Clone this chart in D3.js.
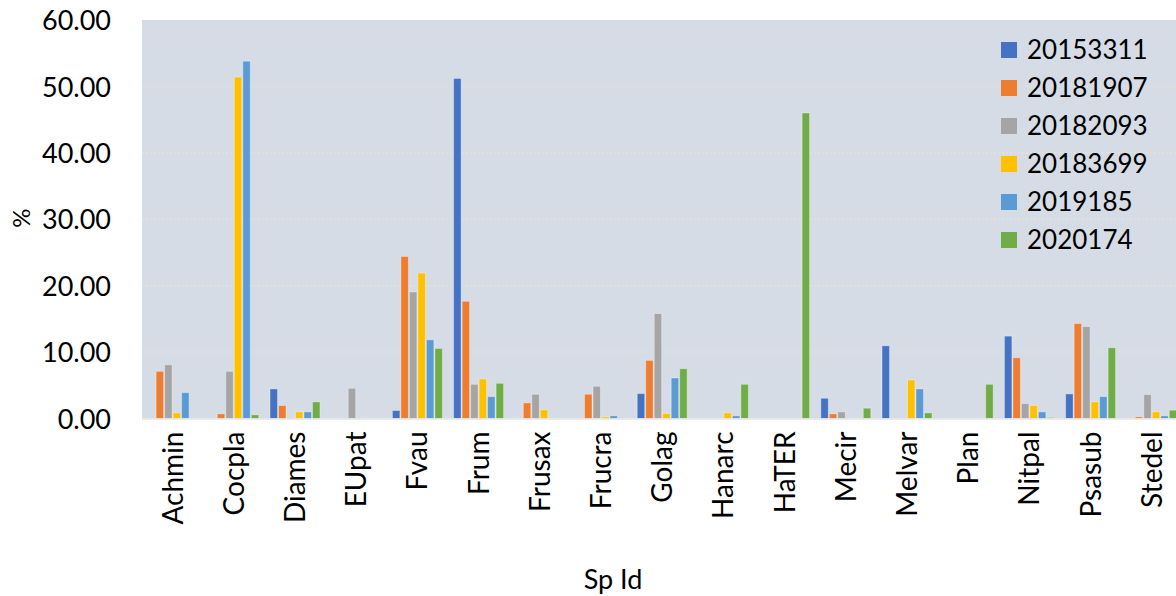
<!DOCTYPE html>
<html>
<head>
<meta charset="utf-8">
<script src="https://cdn.jsdelivr.net/npm/d3@7"></script>
<style>
  body { margin: 0; background: #fff; }
  svg text { font-family: Lato, "Open Sans", sans-serif; fill: #000; }
</style>
</head>
<body>
<svg id="chart"></svg>
<script>
var categories = ['Achmin','Cocpla','Diames','EUpat','Fvau','Frum','Frusax','Frucra','Golag',
	'Hanarc','HaTER','Mecir','Melvar','Plan','Nitpal','Psasub','Stedel'];

var seriesNames = ['20153311','20181907','20182093','20183699','2019185','2020174'];
var seriesColors = ['#4472C4','#ED7D31','#A5A5A5','#FFC000','#5B9BD5','#70AD47'];

var s20153311 = [0, 0, 4.45, 0, 1.2, 51.2, 0, 0, 3.75, 0, 0, 3.05, 10.95, 0, 12.4, 3.7, 0];
var s20181907 = [7.1, 0.7, 1.95, 0, 24.4, 17.65, 2.35, 3.65, 8.75, 0, 0, 0.7, 0, 0, 9.15, 14.3, 0.25];
var s20182093 = [8.1, 7.1, 0.1, 4.55, 19.05, 5.15, 3.65, 4.85, 15.8, 0, 0, 1.0, 0, 0, 2.25, 13.85, 3.6];
var s20183699 = [0.85, 51.4, 1.0, 0, 21.9, 5.95, 1.3, 0.25, 0.75, 0.85, 0, 0, 5.8, 0, 1.95, 2.5, 1.0];
var s2019185 = [3.9, 53.8, 1.0, 0, 11.85, 3.3, 0, 0.4, 6.1, 0.4, 0, 0, 4.45, 0, 1.0, 3.3, 0.4];
var s2020174 = [0, 0.55, 2.5, 0, 10.55, 5.3, 0, 0, 7.5, 5.15, 46.0, 1.55, 0.85, 5.15, 0.15, 10.65, 1.25];

var seriesValues = [s20153311, s20181907, s20182093, s20183699, s2019185, s2020174];

var yTicks = [0, 10, 20, 30, 40, 50, 60];

var width = 1176, height = 596;
var plotLeft = 142, plotRight = 1182.4, plotTop = 20, plotBottom = 418.5;

var svg = d3.select('#chart')
	.attr('width', width)
	.attr('height', height);

// plot background
svg.append('rect')
	.attr('x', plotLeft)
	.attr('y', plotTop)
	.attr('width', plotRight - plotLeft)
	.attr('height', plotBottom - plotTop)
	.attr('fill', '#D6DCE5');

var x0 = d3.scaleBand()
	.domain(categories)
	.range([plotLeft, plotRight]);

var bw = x0.bandwidth();
var x1 = d3.scaleBand()
	.domain(seriesNames)
	.range([bw * 0.092, bw * 0.908])
	.paddingInner(0.12);

var y = d3.scaleLinear()
	.domain([0, 60])
	.range([plotBottom, plotTop]);

// gridlines
svg.append('g')
	.selectAll('line')
	.data(yTicks.filter(function(d){ return d > 0 && d < 60; }))
	.join('line')
	.attr('x1', plotLeft)
	.attr('x2', plotRight)
	.attr('y1', function(d){ return y(d); })
	.attr('y2', function(d){ return y(d); })
	.attr('stroke', '#E4DFD8')
	.attr('stroke-width', 1.5)
	.attr('stroke-dasharray', '2,2');

// bars
var groups = svg.append('g')
	.selectAll('g')
	.data(seriesNames)
	.join('g')
	.attr('fill', function(d, i){ return seriesColors[i]; });

groups.selectAll('rect')
	.data(function(name, si){
		return categories.map(function(c, ci){ return {cat: c, name: name, v: seriesValues[si][ci]}; })
			.filter(function(d){ return d.v > 0; });
	})
	.join('rect')
	.attr('x', function(d){ return x0(d.cat) + x1(d.name); })
	.attr('y', function(d){ return y(d.v); })
	.attr('width', x1.bandwidth())
	.attr('height', function(d){ return y(0) - y(d.v); })
	.attr('stroke', 'rgba(255,255,255,0.35)')
	.attr('stroke-width', 1);

// baseline
svg.append('line')
	.attr('x1', plotLeft)
	.attr('x2', plotRight)
	.attr('y1', plotBottom + 0.5)
	.attr('y2', plotBottom + 0.5)
	.attr('stroke', '#E4E4E4')
	.attr('stroke-width', 1.5);

// y axis
var yAxis = svg.append('g')
	.attr('transform', 'translate(' + (plotLeft - 31) + ',0)')
	.call(d3.axisLeft(y).tickValues(yTicks).tickSize(0).tickFormat(d3.format('.2f')));
yAxis.select('.domain').remove();
yAxis.selectAll('text')
	.attr('x', 0)
	.attr('dy', '0.36em')
	.style('font-size', '27px');

// x axis
var xAxis = svg.append('g')
	.attr('transform', 'translate(0,' + plotBottom + ')')
	.call(d3.axisBottom(x0).tickSize(0));
xAxis.select('.domain').remove();
xAxis.selectAll('text')
	.attr('transform', 'rotate(-90)')
	.attr('text-anchor', 'end')
	.attr('x', -13)
	.attr('y', 0)
	.attr('dy', '0.36em')
	.style('font-size', '28px');

// axis titles
svg.append('text')
	.attr('transform', 'translate(30,218) rotate(-90)')
	.attr('text-anchor', 'middle')
	.style('font-size', '24px')
	.text('%');

svg.append('text')
	.attr('x', 613)
	.attr('y', 589)
	.attr('text-anchor', 'middle')
	.style('font-size', '27px')
	.text('Sp Id');

// legend
var legend = svg.append('g')
	.selectAll('g')
	.data(seriesNames)
	.join('g')
	.attr('transform', function(d, i){ return 'translate(1001,' + (50 + i * 38) + ')'; });

legend.append('rect')
	.attr('x', 0)
	.attr('y', -8)
	.attr('width', 16)
	.attr('height', 16)
	.attr('fill', function(d, i){ return seriesColors[i]; });

legend.append('text')
	.attr('x', 26)
	.attr('y', 0)
	.attr('dy', '0.36em')
	.style('font-size', '26px')
	.text(function(d){ return d; });
</script>
</body>
</html>
